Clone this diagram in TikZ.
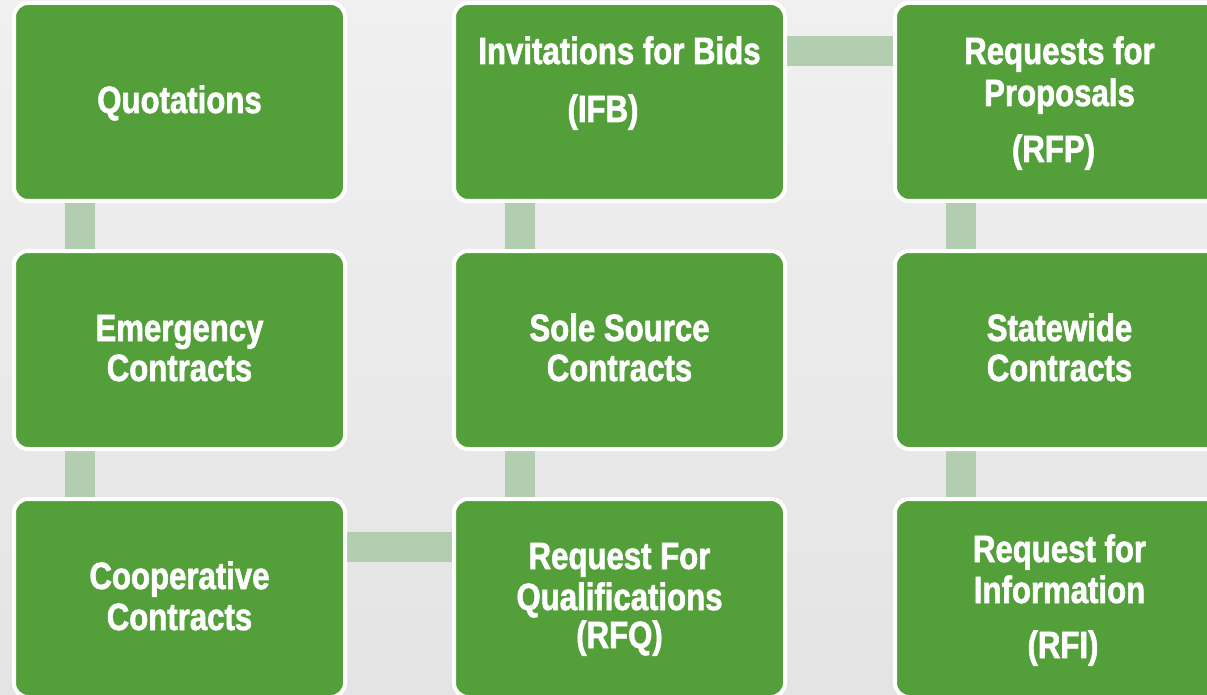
\documentclass[tikz,border=0pt]{standalone}
\usepackage{fontspec}
\newfontfamily\boxfont{Liberation Sans}[FakeStretch=0.82,FakeBold=1.6]

\pgfdeclarelayer{backdrop}
\pgfdeclarelayer{links}
\pgfsetlayers{backdrop,links,main}

\definecolor{boxgreen}{RGB}{83,159,58}
\definecolor{linkgreen}{RGB}{179,205,176}
\definecolor{papertop}{RGB}{240,240,240}
\definecolor{paperbot}{RGB}{228,228,228}

\tikzset{
  stage/.style={rectangle, rounded corners=14pt, draw=white, line width=4pt,
    fill=boxgreen, minimum width=331pt, minimum height=198pt,
    inner sep=0pt, outer sep=0pt},
  boxtext/.style={anchor=base, text=white, inner sep=0pt,
    font=\boxfont\bfseries\fontsize{38}{41}\selectfont},
  link/.style={draw=linkgreen, line width=30pt}
}

\begin{document}
\begin{tikzpicture}[x=1pt,y=-1pt]
  \useasboundingbox (0,0) rectangle (1207,695);
  \clip (0,0) rectangle (1207,695);
  \begin{pgfonlayer}{backdrop}
    \shade[top color=papertop, bottom color=paperbot] (0,0) rectangle (1207,695);
  \end{pgfonlayer}

  % stage boxes, snake order
  \node[stage] (quot)  at (179.5,102) {};
  \node[stage] (ifb)   at (619.5,102) {};
  \node[stage] (rfp)   at (1060.5,102) {};
  \node[stage] (emer)  at (179.5,350) {};
  \node[stage] (sole)  at (619.5,350) {};
  \node[stage] (state) at (1060.5,350) {};
  \node[stage] (coop)  at (179.5,598) {};
  \node[stage] (rfq)   at (619.5,598) {};
  \node[stage] (rfi)   at (1060.5,598) {};

  % box texts
  \node[boxtext] (tq)  at (179.5,113) {Quotations};
  \node[boxtext] (ti1) at (619.5,64)  {Invitations for Bids};
  \node[boxtext] (ti2) at (603,122)   {(IFB)};
  \node[boxtext] (tp1) at (1059.5,64) {Requests for};
  \node[boxtext] (tp2) at (1059.5,106) {Proposals};
  \node[boxtext] (tp3) at (1053.5,162) {(RFP)};
  \node[boxtext] (te1) at (179.5,341) {Emergency};
  \node[boxtext] (te2) at (179.5,381) {Contracts};
  \node[boxtext] (ts1) at (619.5,341) {Sole Source};
  \node[boxtext] (ts2) at (619.5,381) {Contracts};
  \node[boxtext] (tw1) at (1059.5,341) {Statewide};
  \node[boxtext] (tw2) at (1059.5,381) {Contracts};
  \node[boxtext] (tc1) at (179.5,589) {Cooperative};
  \node[boxtext] (tc2) at (179.5,630) {Contracts};
  \node[boxtext] (tf1) at (619.5,569) {Request For};
  \node[boxtext] (tf2) at (619.5,610) {Qualifications};
  \node[boxtext] (tf3) at (619.5,648) {(RFQ)};
  \node[boxtext] (tn1) at (1059.5,562) {Request for};
  \node[boxtext] (tn2) at (1059.5,603) {Information};
  \node[boxtext] (tn3) at (1063,658)  {(RFI)};

  % connecting bars behind the boxes
  \begin{pgfonlayer}{links}
    \draw[link] ([xshift=-99.5pt]quot.south) -- ([xshift=-99.5pt]emer.north);
    \draw[link] ([xshift=-99.5pt]emer.south) -- ([xshift=-99.5pt]coop.north);
    \draw[link] ([yshift=51pt]coop.east) -- ([yshift=51pt]rfq.west);
    \draw[link] ([xshift=-99.5pt]rfq.north) -- ([xshift=-99.5pt]sole.south);
    \draw[link] ([xshift=-99.5pt]sole.north) -- ([xshift=-99.5pt]ifb.south);
    \draw[link] ([yshift=51pt]ifb.east) -- ([yshift=51pt]rfp.west);
    \draw[link] ([xshift=-99.5pt]rfp.south) -- ([xshift=-99.5pt]state.north);
    \draw[link] ([xshift=-99.5pt]state.south) -- ([xshift=-99.5pt]rfi.north);
  \end{pgfonlayer}
\end{tikzpicture}
\end{document}
